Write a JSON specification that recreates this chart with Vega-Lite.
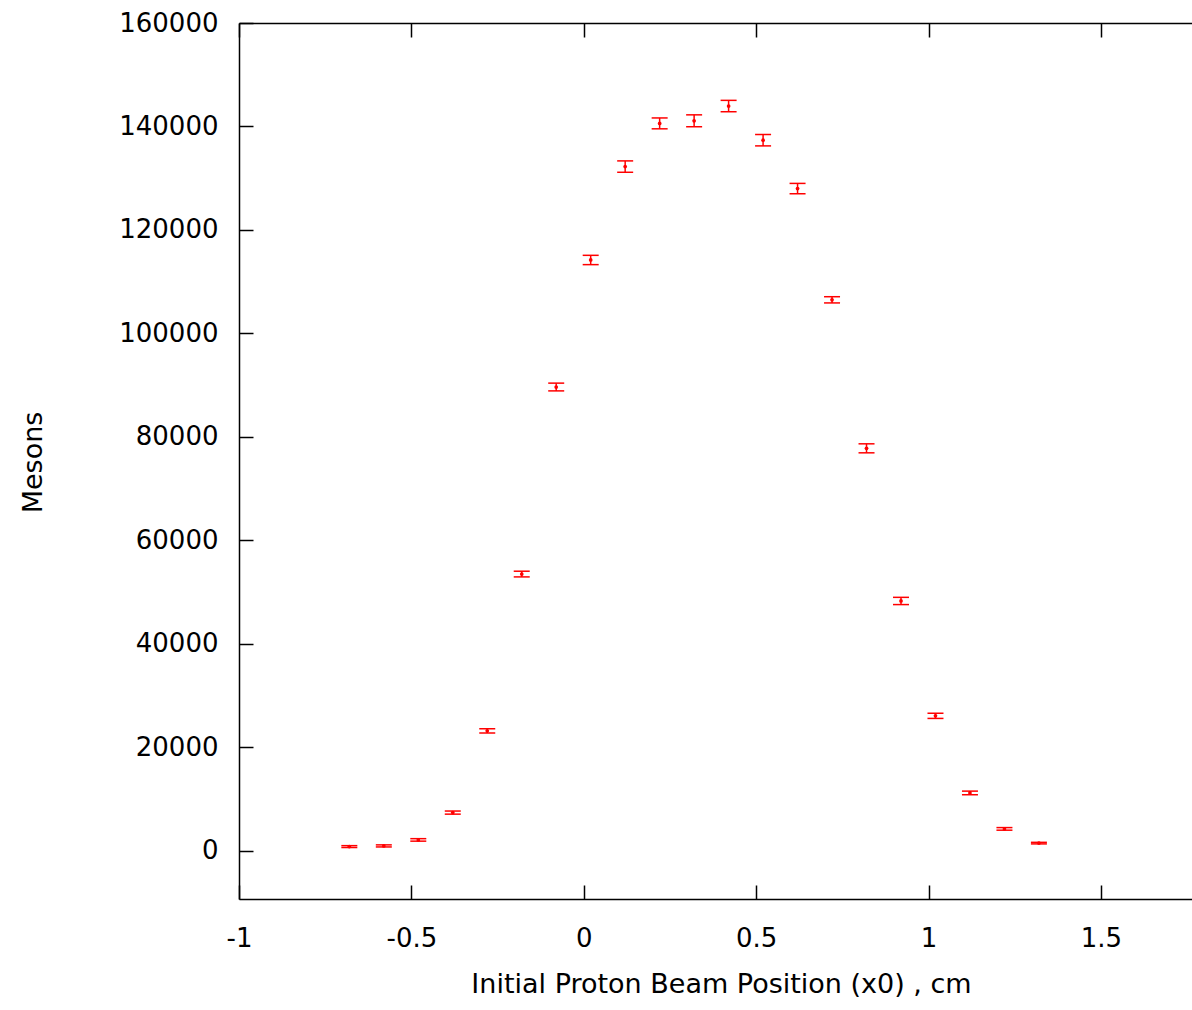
{
  "$schema": "https://vega.github.io/schema/vega-lite/v6.json",
  "autosize": {"type": "none"},
  "padding": {"left": 239, "top": 23, "right": 0, "bottom": 111},
  "width": 953,
  "height": 876,
  "background": "white",
  "config": {
    "view": {"stroke": null},
    "font": "DejaVu Sans",
    "axis": {
      "domainColor": "black",
      "domainWidth": 1.5,
      "tickColor": "black",
      "tickWidth": 1.5,
      "labelColor": "black",
      "titleColor": "black",
      "labelFont": "DejaVu Sans",
      "titleFont": "DejaVu Sans",
      "labelFontSize": 26,
      "titleFontSize": 27,
      "titleFontWeight": "normal",
      "labelFlush": false,
      "grid": false
    }
  },
  "data": {
    "values": [
      {"x": -0.68, "y": 830, "lo": 650, "hi": 1010},
      {"x": -0.58, "y": 960, "lo": 760, "hi": 1160},
      {"x": -0.48, "y": 2120, "lo": 1880, "hi": 2360},
      {"x": -0.38, "y": 7400, "lo": 7100, "hi": 7700},
      {"x": -0.28, "y": 23200, "lo": 22800, "hi": 23600},
      {"x": -0.18, "y": 53500, "lo": 52950, "hi": 54050},
      {"x": -0.08, "y": 89650, "lo": 88900, "hi": 90400},
      {"x": 0.02, "y": 114200, "lo": 113300, "hi": 115100},
      {"x": 0.12, "y": 132250, "lo": 131150, "hi": 133350},
      {"x": 0.22, "y": 140600, "lo": 139550, "hi": 141650},
      {"x": 0.32, "y": 141100, "lo": 139950, "hi": 142250},
      {"x": 0.42, "y": 143950, "lo": 142850, "hi": 145050},
      {"x": 0.52, "y": 137350, "lo": 136250, "hi": 138450},
      {"x": 0.62, "y": 128000, "lo": 127000, "hi": 129000},
      {"x": 0.72, "y": 106500, "lo": 105900, "hi": 107100},
      {"x": 0.82, "y": 77800, "lo": 76930, "hi": 78670},
      {"x": 0.92, "y": 48300, "lo": 47600, "hi": 49000},
      {"x": 1.02, "y": 26100, "lo": 25600, "hi": 26600},
      {"x": 1.12, "y": 11200, "lo": 10850, "hi": 11550},
      {"x": 1.22, "y": 4250, "lo": 4000, "hi": 4500},
      {"x": 1.32, "y": 1500, "lo": 1350, "hi": 1650}
    ]
  },
  "resolve": {"axis": {"x": "independent"}},
  "layer": [
    {
      "layer": [
        {
          "mark": {"type": "rule", "color": "#ff0000", "strokeWidth": 1.5},
          "encoding": {
            "x": {"field": "x", "type": "quantitative"},
            "y": {"field": "lo", "type": "quantitative"},
            "y2": {"field": "hi"}
          }
        },
        {
          "mark": {"type": "tick", "orient": "horizontal", "color": "#ff0000", "size": 16, "thickness": 1.5, "opacity": 1},
          "encoding": {
            "x": {"field": "x", "type": "quantitative"},
            "y": {"field": "lo", "type": "quantitative"}
          }
        },
        {
          "mark": {"type": "tick", "orient": "horizontal", "color": "#ff0000", "size": 16, "thickness": 1.5, "opacity": 1},
          "encoding": {
            "x": {"field": "x", "type": "quantitative"},
            "y": {"field": "hi", "type": "quantitative"}
          }
        },
        {
          "mark": {"type": "point", "filled": true, "color": "#ff0000", "size": 14, "opacity": 1},
          "encoding": {
            "x": {
              "field": "x", "type": "quantitative",
              "scale": {"domain": [-1, 1.764], "nice": false, "zero": false},
              "axis": {
                "orient": "bottom",
                "values": [-1, -0.5, 0, 0.5, 1, 1.5],
                "labelExpr": "'' + datum.value",
                "tickSize": -14,
                "labelPadding": 40,
                "labelBaseline": "top",
                "title": "Initial Proton Beam Position (x0) , cm",
                "titleX": 482,
                "titleY": 93,
                "titleAlign": "center",
                "titleBaseline": "alphabetic"
              }
            },
            "y": {
              "field": "y", "type": "quantitative",
              "scale": {"domain": [-9300, 160000], "nice": false, "zero": false},
              "axis": {
                "orient": "left",
                "values": [0, 20000, 40000, 60000, 80000, 100000, 120000, 140000, 160000],
                "format": "d",
                "tickSize": -14,
                "labelPadding": 35,
                "title": "Mesons",
                "titleAngle": -90,
                "titleX": -198,
                "titleY": 439,
                "titleAlign": "center",
                "titleBaseline": "alphabetic"
              }
            }
          }
        }
      ]
    },
    {
      "mark": {"type": "point", "opacity": 0},
      "encoding": {
        "x": {
          "field": "x", "type": "quantitative",
          "axis": {
            "orient": "top",
            "values": [-1, -0.5, 0, 0.5, 1, 1.5],
            "labels": false,
            "tickSize": -14,
            "title": null
          }
        },
        "y": {"field": "y", "type": "quantitative"}
      }
    }
  ]
}
